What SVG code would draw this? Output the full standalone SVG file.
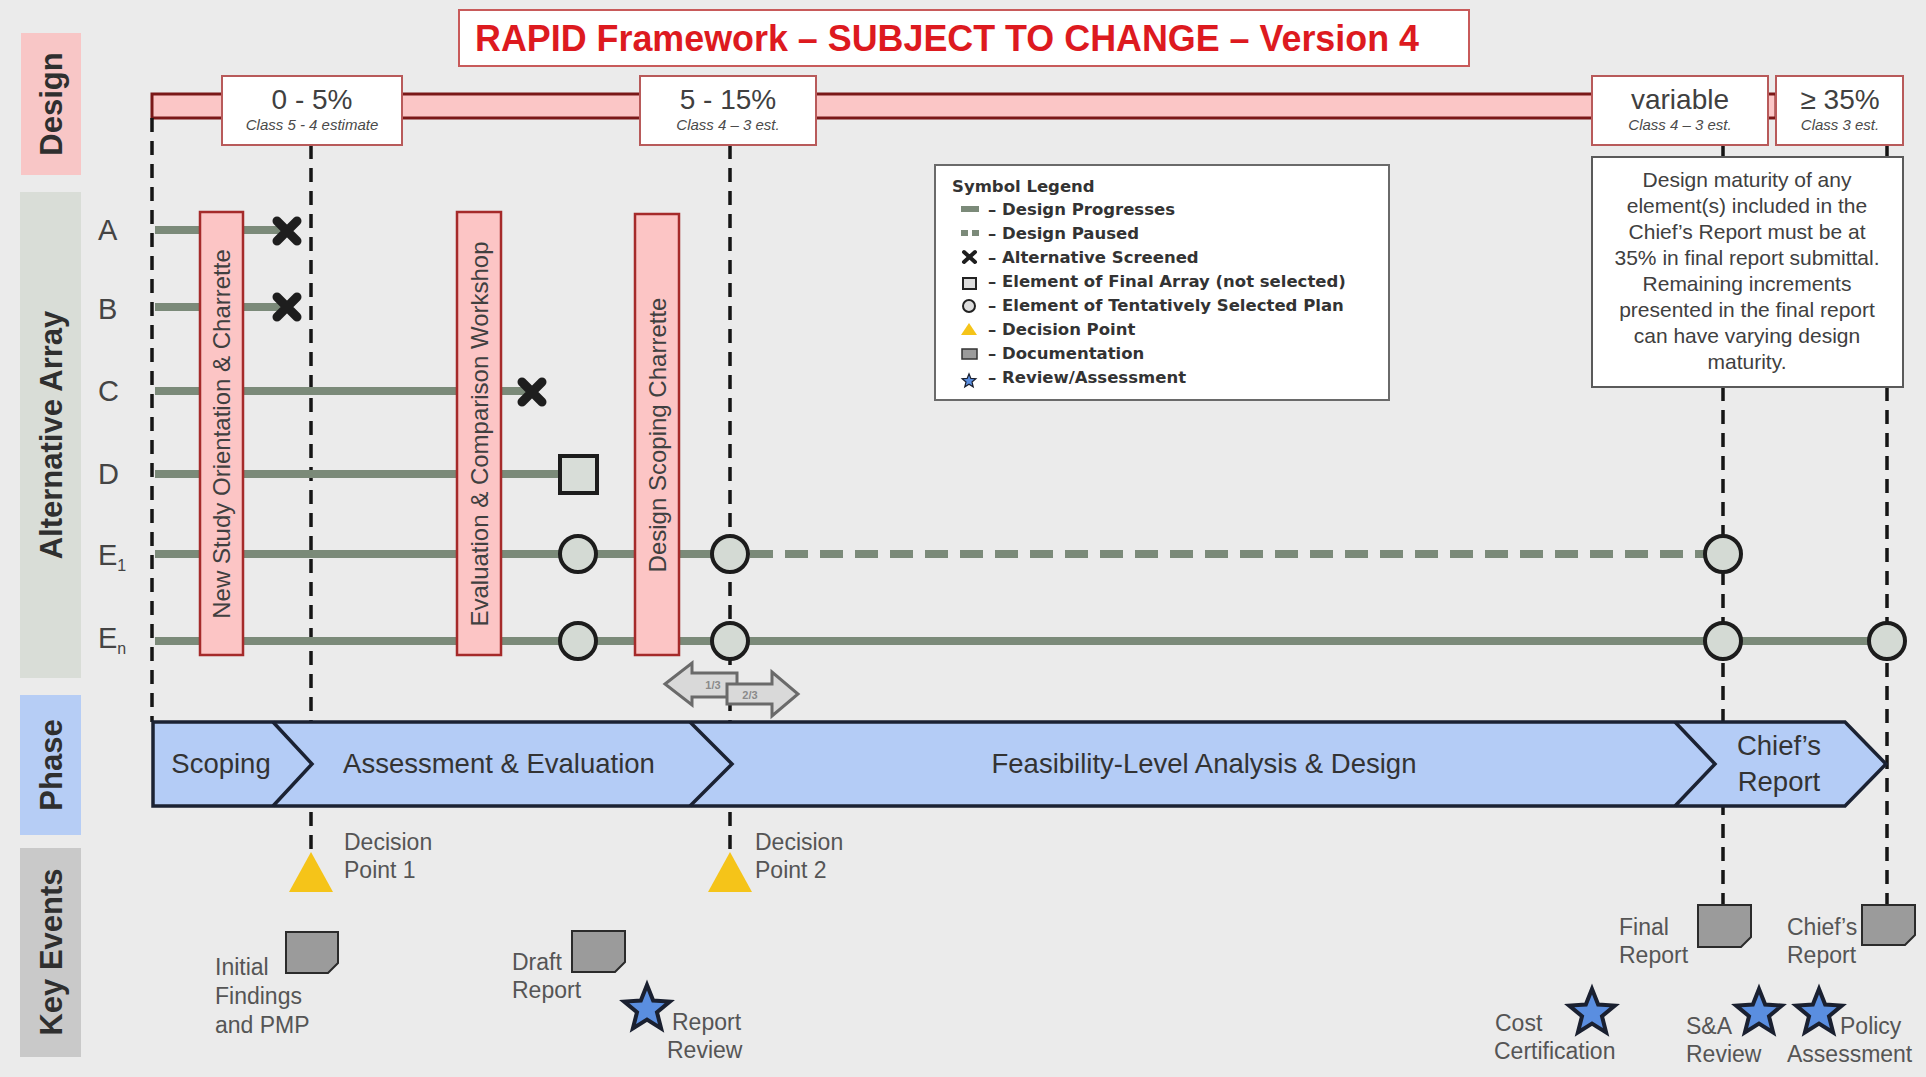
<svg xmlns="http://www.w3.org/2000/svg" width="1926" height="1077" viewBox="0 0 1926 1077">
<defs>
<style>
text{font-family:"Liberation Sans",Arial,sans-serif;}
.side{font-weight:bold;font-size:31px;fill:#2f2f2f;text-anchor:middle;}
.vd{stroke:#151515;stroke-width:3.5;stroke-dasharray:14 9;fill:none;}
.gl{stroke:#7b8a79;stroke-width:8;fill:none;}
.gld{stroke:#7b8a79;stroke-width:8;fill:none;stroke-dasharray:23 12;}
.circ{fill:#d4dad4;stroke:#1c1c1c;stroke-width:4;}
.ws{fill:#fcc5c5;stroke:#a52a2a;stroke-width:2.5;}
.wst{font-size:24px;fill:#404040;text-anchor:middle;}
.vbox{fill:#ffffff;stroke:#b85a5a;stroke-width:2;}
.vt{font-size:28px;fill:#404040;text-anchor:middle;}
.vs{font-size:15px;font-style:italic;fill:#4a4a4a;text-anchor:middle;}
.lbl{font-size:23px;fill:#555555;}
.row{font-size:29px;fill:#444444;}
.note{font-size:21px;fill:#404040;text-anchor:middle;}
.lg{font-family:"DejaVu Sans",Verdana,sans-serif;font-weight:bold;font-size:16.5px;fill:#333333;}
.doc{fill:#9b9b9b;stroke:#2b2b2b;stroke-width:2;}
.tri{fill:#f5c419;}
.star{fill:#5a8ee0;stroke:#1a2030;stroke-width:4;}
.ph{font-size:27.5px;fill:#333333;text-anchor:middle;}
.xm{stroke:#1e1e1e;stroke-width:9;stroke-linecap:round;fill:none;}
.arr{fill:#d9d9d9;stroke:#6a6a6a;stroke-width:3;stroke-linejoin:miter;}
.arrt{font-size:11px;font-weight:bold;fill:#8a8a8a;text-anchor:middle;}
</style>
<path id="starshape" d="M0,-24 L6.17,-8.49 L22.83,-7.42 L9.99,3.24 L14.11,19.42 L0,10.5 L-14.11,19.42 L-9.99,3.24 L-22.83,-7.42 L-6.17,-8.49 Z"/>
<path id="xshape" d="M-10,-10 L10,10 M10,-10 L-10,10"/>
</defs>

<rect width="1926" height="1077" fill="#ebebeb"/>

<!-- side labels -->
<g id="side-design"><rect x="21" y="33" width="60" height="142" fill="#f8c6c6"/><text class="side" transform="translate(62,104) rotate(-90)">Design</text></g>
<g id="side-alternative"><rect x="20" y="192" width="61" height="486" fill="#d9ddd7"/><text class="side" transform="translate(62,435) rotate(-90)">Alternative Array</text></g>
<g id="side-phase"><rect x="20" y="695" width="61" height="140" fill="#b6cdf5"/><text class="side" transform="translate(62,765) rotate(-90)">Phase</text></g>
<g id="side-keyevents"><rect x="20" y="848" width="61" height="209" fill="#c9c9c9"/><text class="side" transform="translate(62,952) rotate(-90)">Key Events</text></g>

<!-- title -->
<g id="title"><rect x="459" y="10" width="1010" height="56" fill="#ffffff" stroke="#c85a5a" stroke-width="2"/><text x="475" y="51" font-size="36" font-weight="bold" fill="#dd1a1f" textLength="944" lengthAdjust="spacingAndGlyphs">RAPID Framework – SUBJECT TO CHANGE – Version 4</text></g>

<!-- design bar -->
<g id="design-bar"><rect x="152" y="94" width="1624" height="24" fill="#fbc6c6" stroke="#7a1818" stroke-width="3"/></g>

<!-- connectors -->
<g id="connectors">
<path class="vd" d="M152 118 V722"/>
<path class="vd" d="M311 145 V852"/>
<path class="vd" d="M730 145 V852"/>
<path class="vd" d="M1723 145 V157 M1723 387 V905"/>
<path class="vd" d="M1887 145 V157 M1887 387 V905"/>
<path class="gl" d="M155 230 H286"/>
<path class="gl" d="M155 307 H286"/>
<path class="gl" d="M155 391 H531"/>
<path class="gl" d="M155 474 H560"/>
<path class="gl" d="M155 554 H730"/>
<path class="gld" d="M750 554 H1705"/>
<path class="gl" d="M155 641 H1887"/>
</g>

<!-- value boxes -->
<g id="design-0-5"><rect class="vbox" x="222" y="76" width="180" height="69"/><text class="vt" x="312" y="109">0 - 5%</text><text class="vs" x="312" y="130">Class 5 - 4 estimate</text></g>
<g id="design-5-15"><rect class="vbox" x="640" y="76" width="176" height="69"/><text class="vt" x="728" y="109">5 - 15%</text><text class="vs" x="728" y="130">Class 4 – 3 est.</text></g>
<g id="design-variable"><rect class="vbox" x="1592" y="76" width="176" height="69"/><text class="vt" x="1680" y="109">variable</text><text class="vs" x="1680" y="130">Class 4 – 3 est.</text></g>
<g id="design-35"><rect class="vbox" x="1776" y="76" width="127" height="69"/><text class="vt" x="1840" y="109">≥ 35%</text><text class="vs" x="1840" y="130">Class 3 est.</text></g>

<!-- note -->
<g id="note"><rect x="1592" y="157" width="311" height="230" fill="#ffffff" stroke="#5a5a5a" stroke-width="2"/>
<text class="note" x="1747" y="187">Design maturity of any</text>
<text class="note" x="1747" y="213">element(s) included in the</text>
<text class="note" x="1747" y="239">Chief’s Report must be at</text>
<text class="note" x="1747" y="265">35% in final report submittal.</text>
<text class="note" x="1747" y="291">Remaining increments</text>
<text class="note" x="1747" y="317">presented in the final report</text>
<text class="note" x="1747" y="343">can have varying design</text>
<text class="note" x="1747" y="369">maturity.</text>
</g>

<!-- legend -->
<g id="legend"><rect x="935" y="165" width="454" height="235" fill="#ffffff" stroke="#6a6a6a" stroke-width="2"/>
<text class="lg" x="952" y="192">Symbol Legend</text>
<rect x="961" y="206" width="18" height="6" fill="#7b8a79"/>
<rect x="961" y="230" width="7" height="6" fill="#7b8a79"/><rect x="972" y="230" width="7" height="6" fill="#7b8a79"/>
<path d="M964 252 L975 262 M975 252 L964 262" stroke="#1e1e1e" stroke-width="4" stroke-linecap="round"/>
<rect x="963" y="278" width="13" height="11" fill="#dddddd" stroke="#222" stroke-width="2"/>
<circle cx="969" cy="306" r="6" fill="#dddddd" stroke="#222" stroke-width="2"/>
<path class="tri" d="M969 323 L977 335 L961 335 Z"/>
<rect x="962" y="349" width="15" height="10" fill="#9b9b9b" stroke="#333" stroke-width="1.5"/>
<use href="#starshape" class="star" transform="translate(969,381) scale(0.3)"/>
<text class="lg" x="988" y="215">– Design Progresses</text>
<text class="lg" x="988" y="239">– Design Paused</text>
<text class="lg" x="988" y="263">– Alternative Screened</text>
<text class="lg" x="988" y="287">– Element of Final Array (not selected)</text>
<text class="lg" x="988" y="311">– Element of Tentatively Selected Plan</text>
<text class="lg" x="988" y="335">– Decision Point</text>
<text class="lg" x="988" y="359">– Documentation</text>
<text class="lg" x="988" y="383">– Review/Assessment</text>
</g>

<!-- row labels -->
<g id="row-A"><text class="row" x="98" y="240">A</text></g>
<g id="row-B"><text class="row" x="98" y="319">B</text></g>
<g id="row-C"><text class="row" x="98" y="401">C</text></g>
<g id="row-D"><text class="row" x="98" y="484">D</text></g>
<g id="row-E1"><text class="row" x="98" y="565">E<tspan font-size="16" dy="6">1</tspan></text></g>
<g id="row-En"><text class="row" x="98" y="648">E<tspan font-size="16" dy="6">n</tspan></text></g>

<!-- workshops -->
<g id="ws-orientation"><rect class="ws" x="200" y="212" width="43" height="443"/><text class="wst" transform="translate(230,434) rotate(-90)">New Study Orientation &amp; Charrette</text></g>
<g id="ws-evaluation"><rect class="ws" x="457" y="212" width="44" height="443"/><text class="wst" transform="translate(488,434) rotate(-90)">Evaluation &amp; Comparison Workshop</text></g>
<g id="ws-scoping"><rect class="ws" x="635" y="214" width="44" height="441"/><text class="wst" transform="translate(666,435) rotate(-90)">Design Scoping Charrette</text></g>

<!-- markers -->
<g id="x-A"><use href="#xshape" class="xm" x="287" y="231"/></g>
<g id="x-B"><use href="#xshape" class="xm" x="287" y="307"/></g>
<g id="x-C"><use href="#xshape" class="xm" x="532" y="392"/></g>
<g id="sq-D"><rect x="560" y="456" width="37" height="37" fill="#d8ddd8" stroke="#1c1c1c" stroke-width="4"/></g>
<g id="c-E1a"><circle class="circ" cx="578" cy="554" r="18"/></g>
<g id="c-E1b"><circle class="circ" cx="730" cy="554" r="18"/></g>
<g id="c-E1c"><circle class="circ" cx="1723" cy="554" r="18"/></g>
<g id="c-Ena"><circle class="circ" cx="578" cy="641" r="18"/></g>
<g id="c-Enb"><circle class="circ" cx="730" cy="641" r="18"/></g>
<g id="c-Enc"><circle class="circ" cx="1723" cy="641" r="18"/></g>
<g id="c-End"><circle class="circ" cx="1887" cy="641" r="18"/></g>

<!-- thirds arrows -->
<g id="arrow-13"><path class="arr" d="M665 684 L692 663 L692 673 L737 673 L737 697 L692 697 L692 705 Z"/><text class="arrt" x="713" y="689">1/3</text></g>
<g id="arrow-23"><path class="arr" d="M727 684 L772 684 L772 672 L798 694 L772 716 L772 704 L727 704 Z"/><text class="arrt" x="750" y="699">2/3</text></g>

<!-- phase bar -->
<g id="phase-bar">
<path d="M153 722 H1845 L1886 764 L1845 806 H153 Z" fill="#b4ccf6" stroke="#1b2233" stroke-width="3.5" stroke-linejoin="miter"/>
<path d="M273 722 L312 764 L273 806 M690 722 L732 764 L690 806 M1675 722 L1715 764 L1675 806" fill="none" stroke="#1b2233" stroke-width="3.5"/>
<text class="ph" x="221" y="773">Scoping</text>
<text class="ph" x="499" y="773">Assessment &amp; Evaluation</text>
<text class="ph" x="1204" y="773">Feasibility-Level Analysis &amp; Design</text>
<text class="ph" x="1779" y="755">Chief’s</text>
<text class="ph" x="1779" y="791">Report</text>
</g>

<!-- decision points -->
<g id="dp1"><path class="tri" d="M311 852 L333 892 L289 892 Z"/><text class="lbl" x="344" y="850">Decision</text><text class="lbl" x="344" y="878">Point 1</text></g>
<g id="dp2"><path class="tri" d="M730 852 L752 892 L708 892 Z"/><text class="lbl" x="755" y="850">Decision</text><text class="lbl" x="755" y="878">Point 2</text></g>

<!-- documents -->
<g id="doc-initial"><path class="doc" d="M286 932 H338 V963 L328 973 H286 Z"/><text class="lbl" x="215" y="975">Initial</text><text class="lbl" x="215" y="1004">Findings</text><text class="lbl" x="215" y="1033">and PMP</text></g>
<g id="doc-draft"><path class="doc" d="M572 931 H625 V962 L615 972 H572 Z"/><text class="lbl" x="512" y="970">Draft</text><text class="lbl" x="512" y="998">Report</text></g>
<g id="doc-final"><path class="doc" d="M1698 905 H1751 V937 L1741 947 H1698 Z"/><text class="lbl" x="1619" y="935">Final</text><text class="lbl" x="1619" y="963">Report</text></g>
<g id="doc-chief"><path class="doc" d="M1862 905 H1915 V935 L1905 945 H1862 Z"/><text class="lbl" x="1787" y="935">Chief’s</text><text class="lbl" x="1787" y="963">Report</text></g>

<!-- reviews -->
<g id="rv-report"><use href="#starshape" class="star" x="647" y="1009"/><text class="lbl" x="672" y="1030">Report</text><text class="lbl" x="667" y="1058">Review</text></g>
<g id="rv-cost"><use href="#starshape" class="star" x="1592" y="1013"/><text class="lbl" x="1495" y="1031">Cost</text><text class="lbl" x="1494" y="1059">Certification</text></g>
<g id="rv-sa"><use href="#starshape" class="star" x="1759" y="1013"/><text class="lbl" x="1686" y="1034">S&amp;A</text><text class="lbl" x="1686" y="1062">Review</text></g>
<g id="rv-policy"><use href="#starshape" class="star" x="1819" y="1013"/><text class="lbl" x="1840" y="1034">Policy</text><text class="lbl" x="1787" y="1062">Assessment</text></g>
</svg>
